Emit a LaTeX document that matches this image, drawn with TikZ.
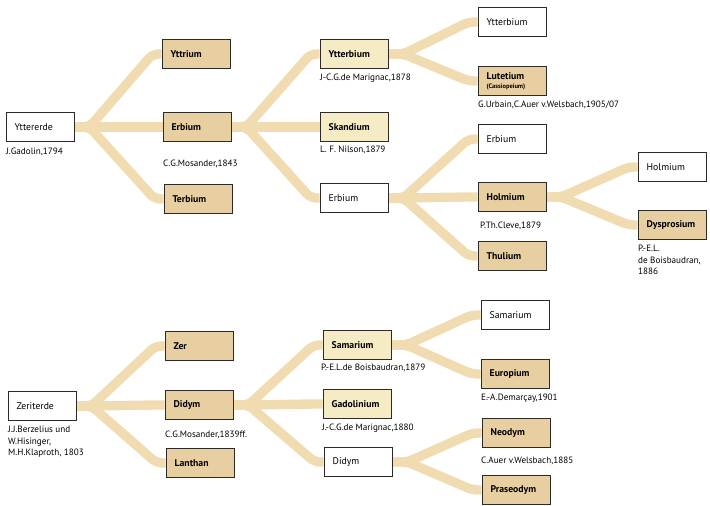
\documentclass[tikz,border=0pt]{standalone}
\usepackage{fontspec}
\setmainfont{PT Sans}
\usetikzlibrary{calc,backgrounds}
\definecolor{BandTan}{HTML}{F0DCB0}
\definecolor{BoxTan}{HTML}{E8CFA2}
\definecolor{BoxPale}{HTML}{F5EBC4}
\definecolor{BoxLine}{HTML}{2E2A26}

\begin{document}
\begin{tikzpicture}[x=0.03cm,y=-0.03cm,
 elem/.style={draw=BoxLine,fill=white,line width=0.7pt,minimum width=2.04cm,minimum height=0.87cm,
   inner xsep=0.26cm,text width=1.52cm,align=left,font=\fontsize{8.3}{9}\selectfont},
 split/.style={elem,fill=BoxTan,font=\fontsize{8.3}{9}\selectfont\bfseries},
 pale/.style={split,fill=BoxPale},
 who/.style={anchor=west,inner sep=0pt,align=left,font=\fontsize{7.8}{9.8}\selectfont},
 band/.style={draw=BandTan,line width=8pt,rounded corners=5pt}]
 \useasboundingbox (0,0) rectangle (710,505);

 % Yttererde
 \node[elem]  (ytt)   at (40,127)  {Yttererde};
 \node[split] (yttr)  at (196,54)  {Yttrium};
 \node[split] (erb)   at (197,127) {Erbium};
 \node[split] (terb)  at (198,199) {Terbium};
 \node[pale]  (ytb)   at (354,54)  {Ytterbium};
 \node[pale]  (skan)  at (354,127) {Skandium};
 \node[elem]  (erbb)  at (354,198) {Erbium};
 \node[elem]  (ytbb)  at (512,22)  {Ytterbium};
 \node[split] (lut)   at (512,81)  {Lutetium\\[-1.5pt]{\fontsize{5.5}{6}\selectfont (Cassiopeium)}};
 \node[elem]  (erbc)  at (512,139) {Erbium};
 \node[split] (holm)  at (512,197) {Holmium};
 \node[split] (thul)  at (512,256) {Thulium};
 \node[elem]  (holmb) at (672,167) {Holmium};
 \node[split] (dysp)  at (672,225) {Dysprosium};

 \node[who] at (6,152)   {J.Gadolin,1794};
 \node[who] at (163,164) {C.G.Mosander,1843};
 \node[who] at (320,78)  {J-C.G.de Marignac,1878};
 \node[who] at (320,150) {L. F. Nilson,1879};
 \node[who] at (478,105) {G.Urbain,C.Auer v.Welsbach,1905/07};
 \node[who] at (480,226) {P.Th.Cleve,1879};
 \node[who,anchor=north west] at (638,245) {P.-E.L.\\de Boisbaudran,\\1886};

 % Zeriterde
 \node[elem]  (zerit) at (42,406)  {Zeriterde};
 \node[split] (zer)   at (199,346) {Zer};
 \node[split] (did)   at (199,405) {Didym};
 \node[split] (lan)   at (200,463) {Lanthan};
 \node[pale]  (sam)   at (357,345) {Samarium};
 \node[pale]  (gad)   at (357,404) {Gadolinium};
 \node[elem]  (didb)  at (358,462) {Didym};
 \node[elem]  (samb)  at (515,315) {Samarium};
 \node[split] (eur)   at (515,374) {Europium};
 \node[split] (neo)   at (516,433) {Neodym};
 \node[split] (pra)   at (516,490) {Praseodym};

 \node[who,anchor=north west] at (8,426) {J.J.Berzelius und\\W.Hisinger,\\M.H.Klaproth, 1803};
 \node[who] at (165,435) {C.G.Mosander,1839ff.};
 \node[who] at (321,368) {P.-E.L.de Boisbaudran,1879};
 \node[who] at (322,428) {J.-C.G.de Marignac,1880};
 \node[who] at (481,398) {E.-A.Demarçay,1901};
 \node[who] at (481,461) {C.Auer v.Welsbach,1885};

 \begin{scope}[on background layer]
  \foreach \a/\b in {ytt/yttr,ytt/erb,ytt/terb,erb/ytb,erb/skan,erb/erbb,ytb/ytbb,ytb/lut,
    erbb/erbc,erbb/holm,erbb/thul,holm/holmb,holm/dysp,
    zerit/zer,zerit/did,zerit/lan,did/sam,did/gad,did/didb,sam/samb,sam/eur,didb/neo,didb/pra}
   \draw[band] (\a.east) -- ++(15,0) -- ($(\b.west)+(-9,0)$) -- (\b.west);
 \end{scope}
\end{tikzpicture}
\end{document}
